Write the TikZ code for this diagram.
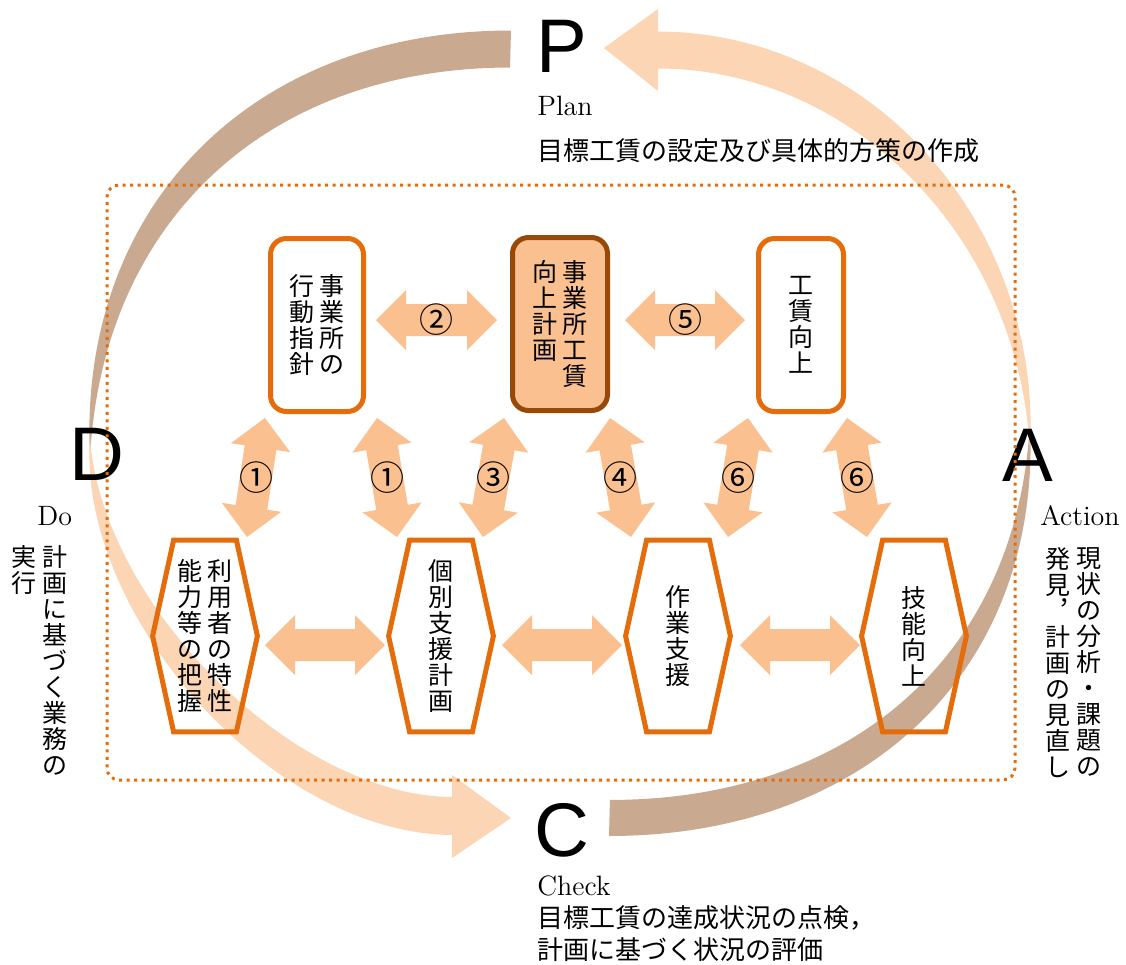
\documentclass[tikz,border=0pt]{standalone}
\usepackage{fontspec}
\newfontfamily\jp{Noto Sans CJK JP}
\newfontfamily\sanslat{Liberation Sans}
\usetikzlibrary{calc}
\definecolor{orl}{HTML}{E46C0A}
\definecolor{brn}{HTML}{984807}
\definecolor{pch}{HTML}{FAC090}
\definecolor{lpch}{HTML}{FCD5B5}
\definecolor{tanc}{HTML}{C9AA91}
\newcommand\boxfont{\jp\fontsize{12.5}{13}\selectfont}
\newcommand\vcol[1]{\parbox[t]{13pt}{\centering #1}}
\newcommand\drawband[2]{%
 \fill[#1] plot[variable=\t,domain=0:1,samples=120]
  ({bz(\t,\Ax,\Bx,\Cx,\Dx)-0.5*(#2)*dbz(\t,\Ay,\By,\Cy,\Dy)/veclen(dbz(\t,\Ax,\Bx,\Cx,\Dx),dbz(\t,\Ay,\By,\Cy,\Dy))},
   {bz(\t,\Ay,\By,\Cy,\Dy)+0.5*(#2)*dbz(\t,\Ax,\Bx,\Cx,\Dx)/veclen(dbz(\t,\Ax,\Bx,\Cx,\Dx),dbz(\t,\Ay,\By,\Cy,\Dy))})
  -- plot[variable=\t,domain=1:0,samples=120]
  ({bz(\t,\Ax,\Bx,\Cx,\Dx)+0.5*(#2)*dbz(\t,\Ay,\By,\Cy,\Dy)/veclen(dbz(\t,\Ax,\Bx,\Cx,\Dx),dbz(\t,\Ay,\By,\Cy,\Dy))},
   {bz(\t,\Ay,\By,\Cy,\Dy)-0.5*(#2)*dbz(\t,\Ax,\Bx,\Cx,\Dx)/veclen(dbz(\t,\Ax,\Bx,\Cx,\Dx),dbz(\t,\Ay,\By,\Cy,\Dy))})
  -- cycle;}
\newcommand\dblarrow[2]{%
 \fill[pch] (#1) -- ($(#1)!15pt!(#2)!15pt!90:(#2)$) -- ($(#1)!15pt!(#2)!8pt!90:(#2)$)
  -- ($(#2)!15pt!(#1)!8pt!-90:(#1)$) -- ($(#2)!15pt!(#1)!15pt!-90:(#1)$) -- (#2)
  -- ($(#2)!15pt!(#1)!15pt!90:(#1)$) -- ($(#2)!15pt!(#1)!8pt!90:(#1)$)
  -- ($(#1)!15pt!(#2)!8pt!-90:(#2)$) -- ($(#1)!15pt!(#2)!15pt!-90:(#2)$) -- cycle;}
\newcommand\hexdraw[1]{\draw[hexline] ([xshift=10.5pt]#1.north west) -- ([xshift=-10.5pt]#1.north east) -- (#1.east) -- ([xshift=-10.5pt]#1.south east) -- ([xshift=10.5pt]#1.south west) -- (#1.west) -- cycle;}
\begin{document}
\begin{tikzpicture}[x=0.5pt,y=-0.5pt,
 declare function={
  bz(\tv,\pa,\pb,\pc,\pd)=(1-\tv)*(1-\tv)*(1-\tv)*\pa+3*(1-\tv)*(1-\tv)*\tv*\pb+3*(1-\tv)*\tv*\tv*\pc+\tv*\tv*\tv*\pd;
  dbz(\tv,\pa,\pb,\pc,\pd)=3*(1-\tv)*(1-\tv)*(\pb-\pa)+6*(1-\tv)*\tv*(\pc-\pb)+3*\tv*\tv*(\pd-\pc);
 },
 rbox/.style={draw=orl,line width=2.5pt,rounded corners=8pt,fill=white,minimum height=86.5pt,inner sep=0pt,font=\boxfont},
 hexnode/.style={minimum width=52pt,minimum height=95.5pt,inner sep=0pt,font=\boxfont},
 hexline/.style={draw=orl,line width=2.5pt},
 num/.style={font=\jp\fontsize{17}{17}\selectfont,inner sep=0pt},
 big/.style={font=\sanslat\fontsize{38}{38}\selectfont,inner sep=0pt},
 lat/.style={font=\fontsize{14}{16}\selectfont,inner sep=0pt,anchor=base west},
 jpt/.style={font=\jp\fontsize{13}{16}\selectfont,inner sep=0pt,anchor=base west},
 vtxt/.style={font=\jp\fontsize{12.5}{13}\selectfont,align=center,inner sep=0pt,anchor=north},
 frame/.style={draw=orl,line width=1.5pt,dash pattern=on 1.5pt off 2.25pt,rounded corners=6pt,minimum width=454pt,minimum height=297.5pt,inner sep=0pt}
]
\useasboundingbox (0,0) rectangle (1126,965);
% cycle arcs
\def\Ax{511}\def\Ay{49}\def\Bx{258}\def\By{49}\def\Cx{90}\def\Cy{215}\def\Dx{90}\def\Dy{458}
\drawband{tanc}{37*(1-\t*\t)}
\def\Ax{90}\def\Ay{438}\def\Bx{90}\def\By{612}\def\Cx{285}\def\Cy{816}\def\Dx{453}\def\Dy{816}
\drawband{lpch}{38*\t*(2-\t)}
\fill[lpch] (452,775) -- (511,818) -- (452,858) -- cycle;
\def\Ax{609}\def\Ay{818}\def\Bx{862}\def\By{818}\def\Cx{1030}\def\Cy{660}\def\Dx{1030}\def\Dy{422}
\drawband{tanc}{36*(1-\t*\t)}
\def\Ax{1030}\def\Ay{450}\def\Bx{1030}\def\By{230}\def\Cx{862}\def\Cy{50}\def\Dx{657}\def\Dy{50}
\drawband{lpch}{37*\t*(2-\t)}
\fill[lpch] (658,9) -- (604,48) -- (658,91) -- cycle;
% boxes
\node[rbox,minimum width=46.5pt] (b1) at (317,325) {\vcol{行\\動\\指\\針}\hspace{2pt}\vcol{事\\業\\所\\の}};
\node[rbox,fill=pch,draw=brn,minimum width=47.5pt] (b2) at (560,324) {\vcol{向\\上\\計\\画}\hspace{2pt}\vcol{事\\業\\所\\工\\賃}};
\node[rbox,minimum width=42.5pt] (b3) at (801,325) {\vcol{工\\賃\\向\\上}};
% hexagons
\node[hexnode] (h1) at (205,636) {\vcol{能\\力\\等\\の\\把\\握}\hspace{2pt}\vcol{利\\用\\者\\の\\特\\性}};
\node[hexnode] (h2) at (441,636) {\vcol{個\\別\\支\\援\\計\\画}};
\node[hexnode] (h3) at (678,636) {\vcol{作\\業\\支\\援}};
\node[hexnode] (h4) at (914,636) {\vcol{技\\能\\向\\上}};
\hexdraw{h1}\hexdraw{h2}\hexdraw{h3}\hexdraw{h4}
% arrow end points
\coordinate (s2) at ([shift={(59,-5)}]b1.center);
\coordinate (e2) at ([shift={(-63,-4)}]b2.center);
\coordinate (s5) at ([shift={(65,-4)}]b2.center);
\coordinate (e5) at ([shift={(-56,-5)}]b3.center);
\coordinate (sh1) at ([shift={(60,9)}]h1.center);
\coordinate (eh1) at ([shift={(-56,9)}]h2.center);
\coordinate (sh2) at ([shift={(61,9)}]h2.center);
\coordinate (eh2) at ([shift={(-56,9)}]h3.center);
\coordinate (sh3) at ([shift={(62,9)}]h3.center);
\coordinate (eh3) at ([shift={(-54,9)}]h4.center);
\coordinate (s1a) at ([shift={(-52,93)}]b1.center);
\coordinate (e1a) at ([shift={(42,-99)}]h1.center);
\coordinate (s1b) at ([shift={(60,93)}]b1.center);
\coordinate (e1b) at ([shift={(-44,-99)}]h2.center);
\coordinate (s3) at ([shift={(-56,94)}]b2.center);
\coordinate (e3) at ([shift={(42,-99)}]h2.center);
\coordinate (s4) at ([shift={(50,94)}]b2.center);
\coordinate (e4) at ([shift={(-47,-99)}]h3.center);
\coordinate (s6a) at ([shift={(-53,93)}]b3.center);
\coordinate (e6a) at ([shift={(50,-99)}]h3.center);
\coordinate (s6b) at ([shift={(46,93)}]b3.center);
\coordinate (e6b) at ([shift={(-47,-99)}]h4.center);
\dblarrow{s2}{e2}\dblarrow{s5}{e5}
\dblarrow{sh1}{eh1}\dblarrow{sh2}{eh2}\dblarrow{sh3}{eh3}
\dblarrow{s1a}{e1a}\dblarrow{s1b}{e1b}\dblarrow{s3}{e3}\dblarrow{s4}{e4}\dblarrow{s6a}{e6a}\dblarrow{s6b}{e6b}
\node[num] (l2) at ($(s2)!0.5!(e2)$) {②};
\node[num] (l5) at ($(s5)!0.5!(e5)$) {⑤};
\node[num] (l1a) at ($(s1a)!0.5!(e1a)$) {①};
\node[num] (l1b) at ($(s1b)!0.5!(e1b)$) {①};
\node[num] (l3) at ($(s3)!0.5!(e3)$) {③};
\node[num] (l4) at ($(s4)!0.5!(e4)$) {④};
\node[num] (l6a) at ($(s6a)!0.5!(e6a)$) {⑥};
\node[num] (l6b) at ($(s6b)!0.5!(e6b)$) {⑥};
% PDCA texts
\node[lat] (plan) at (537,115) {Plan};
\node[jpt] (plantx) at (537,160) {目標工賃の設定及び具体的方策の作成};
\node[lat] (check) at (537,895) {Check};
\node[jpt] (checktx1) at (537,927) {目標工賃の達成状況の点検，};
\node[jpt] (checktx2) at (537,959) {計画に基づく状況の評価};
\node[lat] (do) at (37,525) {Do};
\node[vtxt] (dotx1) at (55,545) {計\\画\\に\\基\\づ\\く\\業\\務\\の};
\node[vtxt] (dotx2) at (24,545) {実\\行};
\node[lat] (action) at (1040,525) {Action};
\node[vtxt] (actx1) at (1089,547) {現\\状\\の\\分\\析\\・\\課\\題\\の};
\node[vtxt] (actx2) at (1058,547) {発\\見\\︐\\計\\画\\の\\見\\直\\し};
\node[big] (P) at (562,46) {P};
\node[big] (D) at (97,454) {D};
\node[big] (C) at (562,830) {C};
\node[big] (A) at (1028,455) {A};
\node[frame] (fr) at (561,482.5) {};
\end{tikzpicture}
\end{document}
